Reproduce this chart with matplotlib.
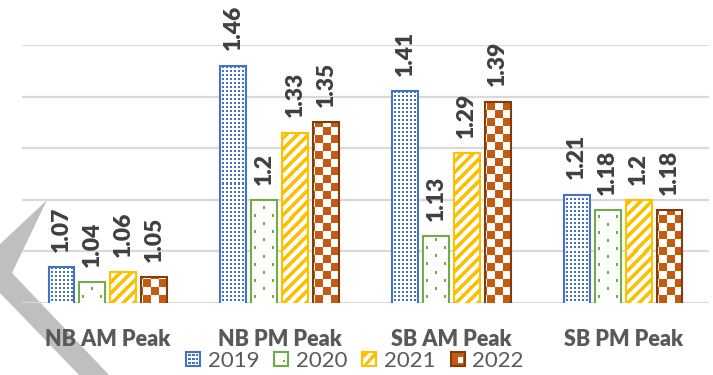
import numpy as np
import matplotlib
matplotlib.use("Agg")
import matplotlib.pyplot as plt
from matplotlib.patches import Rectangle, Polygon
from matplotlib.legend_handler import HandlerBase

# ---- data -------------------------------------------------------------
categories = ["NB AM Peak", "NB PM Peak", "SB AM Peak", "SB PM Peak"]
years = ["2019", "2020", "2021", "2022"]
v2019 = [1.07, 1.46, 1.41, 1.21]
v2020 = [1.04, 1.20, 1.13, 1.18]
v2021 = [1.06, 1.33, 1.29, 1.20]
v2022 = [1.05, 1.35, 1.39, 1.18]
series = [v2019, v2020, v2021, v2022]
label_text = [["1.07", "1.46", "1.41", "1.21"],
              ["1.04", "1.2", "1.13", "1.18"],
              ["1.06", "1.33", "1.29", "1.2"],
              ["1.05", "1.35", "1.39", "1.18"]]

# ---- style ------------------------------------------------------------
W, H, DPI = 713, 375, 100
edge_colors = ["#4472C4", "#70AD47", "#FFC000", "#843C0C"]
pattern_colors = ["#4472C4", "#70AD47", "#FFC000", "#C55A11"]
kinds = ["dots", "sparse", "stripes", "checker"]
FONT = "Lato"


def hexrgb(h):
    h = h.lstrip("#")
    return [int(h[i:i + 2], 16) / 255 for i in (0, 2, 4)]


def pattern_mask(kind, h, w):
    """Boolean mask (row 0 at top) of the foreground pixels of a fill pattern,
    anchored at the bottom-left corner."""
    rows = np.arange(h)[:, None]
    rb = (h - 1 - rows) * np.ones((1, w), dtype=int)
    c = np.arange(w)[None, :] * np.ones((h, 1), dtype=int)
    if kind == "dots":
        return ((c % 4) >= 2) & ((rb % 4) >= 2)
    if kind == "sparse":
        k = rb // 8
        inrow = (rb % 8) >= 5
        even = np.isin(c, [3, 4, 21, 22])
        odd = np.isin(c, [12, 13])
        return inrow & np.where(k % 2 == 0, even, odd)
    if kind == "stripes":
        return ((c - rb) % 11) < 5
    if kind == "checker":
        return (((c - 2) // 8 + (rb // 8)) % 2) == 0
    return np.zeros((h, w), bool)


fig = plt.figure(figsize=(W / DPI, H / DPI), dpi=DPI)
fig.patch.set_facecolor("white")

# grey chevron shape sitting behind the chart
def fpx(x, y):
    return (x / W, 1 - y / H)

chev = Polygon([fpx(47, 200), fpx(12, 273), fpx(110, 376), fpx(80, 376),
                fpx(-1, 292), fpx(-1, 245)], closed=True,
               transform=fig.transFigure, facecolor="#BFBFBF",
               edgecolor="none", zorder=-5)
fig.patches.append(chev)

ax = fig.add_axes([22 / W, 1 - 303 / H, (709 - 22) / W, (303 - 45) / H])
ax.set_zorder(2)
ax.patch.set_alpha(0)
ax.set_xlim(-0.5, 3.5)
ax.set_ylim(1.0, 1.5)
ax.set_yticks(np.arange(1.0, 1.51, 0.1))
ax.yaxis.grid(True, color="#D9D9D9", linewidth=1.6)
ax.set_axisbelow(True)
for s in ax.spines.values():
    s.set_visible(False)
ax.tick_params(axis="y", left=False, labelleft=False)
ax.tick_params(axis="x", bottom=False, pad=15)
x = np.arange(len(categories))
ax.set_xticks(x)
ax.set_xticklabels(categories, fontfamily=FONT, fontweight="heavy",
                   fontsize=15.5, color="#595959")

step = 0.18
width = 0.151
ybase = ax.get_ylim()[0]

for i, vals in enumerate(series):
    pos = x + (i - 1.5) * step
    bars = ax.bar(pos, vals, width=width, facecolor="none",
                  edgecolor=edge_colors[i], linewidth=1.5, zorder=3,
                  label=years[i])
    fg = np.array(hexrgb(pattern_colors[i]))
    for b, v, txt in zip(bars, vals, label_text[i]):
        x0, x1 = b.get_x(), b.get_x() + b.get_width()
        y0 = max(b.get_y(), ybase)
        y1 = b.get_y() + b.get_height()
        (px0, py0), (px1, py1) = ax.transData.transform([(x0, y0), (x1, y1)])
        px0, px1, py0, py1 = np.round([px0, px1, py0, py1])
        wpx, hpx = int(px1 - px0), int(py1 - py0)
        (dx0, dy0), (dx1, dy1) = ax.transData.inverted().transform(
            [(px0, py0), (px1, py1)])
        mask = pattern_mask(kinds[i], hpx, wpx)
        img = np.ones((hpx, wpx, 3))
        img[mask] = fg
        im = ax.imshow(img, extent=(dx0, dx1, dy0, dy1), origin="upper",
                       interpolation="nearest", aspect="auto", zorder=2)
        im.set_clip_path(b)
        ax.annotate(txt, (b.get_x() + b.get_width() / 2, v),
                    xytext=(0, 11), textcoords="offset points",
                    rotation=90, ha="center", va="bottom",
                    fontfamily=FONT, fontweight="heavy", fontsize=16.5,
                    color="#404040", annotation_clip=False)

ax.set_xlim(-0.5, 3.5)
ax.set_ylim(1.0, 1.5)


# ---- legend with small pattern swatches -------------------------------
class SwatchHandler(HandlerBase):
    def __init__(self, kind, fg, edge):
        super().__init__()
        self.kind, self.fg, self.edge = kind, fg, edge

    def create_artists(self, legend, orig_handle, xdescent, ydescent,
                       width, height, fontsize, trans):
        s = height
        x0, y0 = -xdescent + (width - s) / 2, -ydescent
        arts = [Rectangle((x0, y0), s, s, facecolor="white",
                          edgecolor="none", transform=trans)]
        if self.kind == "dots":
            for r in range(3):
                for q in range(3):
                    arts.append(Rectangle((x0 + s * (0.16 + q * 0.27),
                                           y0 + s * (0.16 + r * 0.27)),
                                          s * 0.17, s * 0.17,
                                          facecolor=self.fg, edgecolor="none",
                                          transform=trans))
        elif self.kind == "sparse":
            arts.append(Rectangle((x0 + s * 0.6, y0 + s * 0.28), s * 0.15,
                                  s * 0.15, facecolor=self.fg,
                                  edgecolor="none", transform=trans))
        elif self.kind == "stripes":
            arts.append(Polygon([(x0, y0 + s * 0.45), (x0, y0 + s),
                                 (x0 + s * 0.55, y0 + s)],
                                facecolor=self.fg, edgecolor="none",
                                transform=trans))
            arts.append(Polygon([(x0, y0), (x0 + s * 0.25, y0),
                                 (x0 + s, y0 + s * 0.75), (x0 + s, y0 + s),
                                 (x0 + s * 0.85, y0 + s)],
                                facecolor=self.fg, edgecolor="none",
                                transform=trans))
        elif self.kind == "checker":
            arts.append(Rectangle((x0, y0), s, s, facecolor=self.fg,
                                  edgecolor="none", transform=trans))
            arts.append(Rectangle((x0 + s * 0.5, y0 + s * 0.2), s * 0.4,
                                  s * 0.45, facecolor="white",
                                  edgecolor="none", transform=trans))
        arts.append(Rectangle((x0, y0), s, s, facecolor="none",
                              edgecolor=self.edge, linewidth=1.5,
                              transform=trans))
        return arts


handles = [Rectangle((0, 0), 1, 1) for _ in years]
hmap = {h: SwatchHandler(kinds[i], pattern_colors[i], edge_colors[i])
        for i, h in enumerate(handles)}
leg = fig.legend(handles, years, handler_map=hmap, loc="center",
                 bbox_to_anchor=(355 / W, 1 - 361 / H), ncol=4,
                 frameon=False, handlelength=0.6, handleheight=0.6,
                 handletextpad=0.35, columnspacing=0.7, borderpad=0,
                 prop={"family": FONT, "size": 16})
leg.set_zorder(3)
for t in leg.get_texts():
    t.set_color("#595959")

fig.savefig("out.png", dpi=DPI, facecolor="white")
